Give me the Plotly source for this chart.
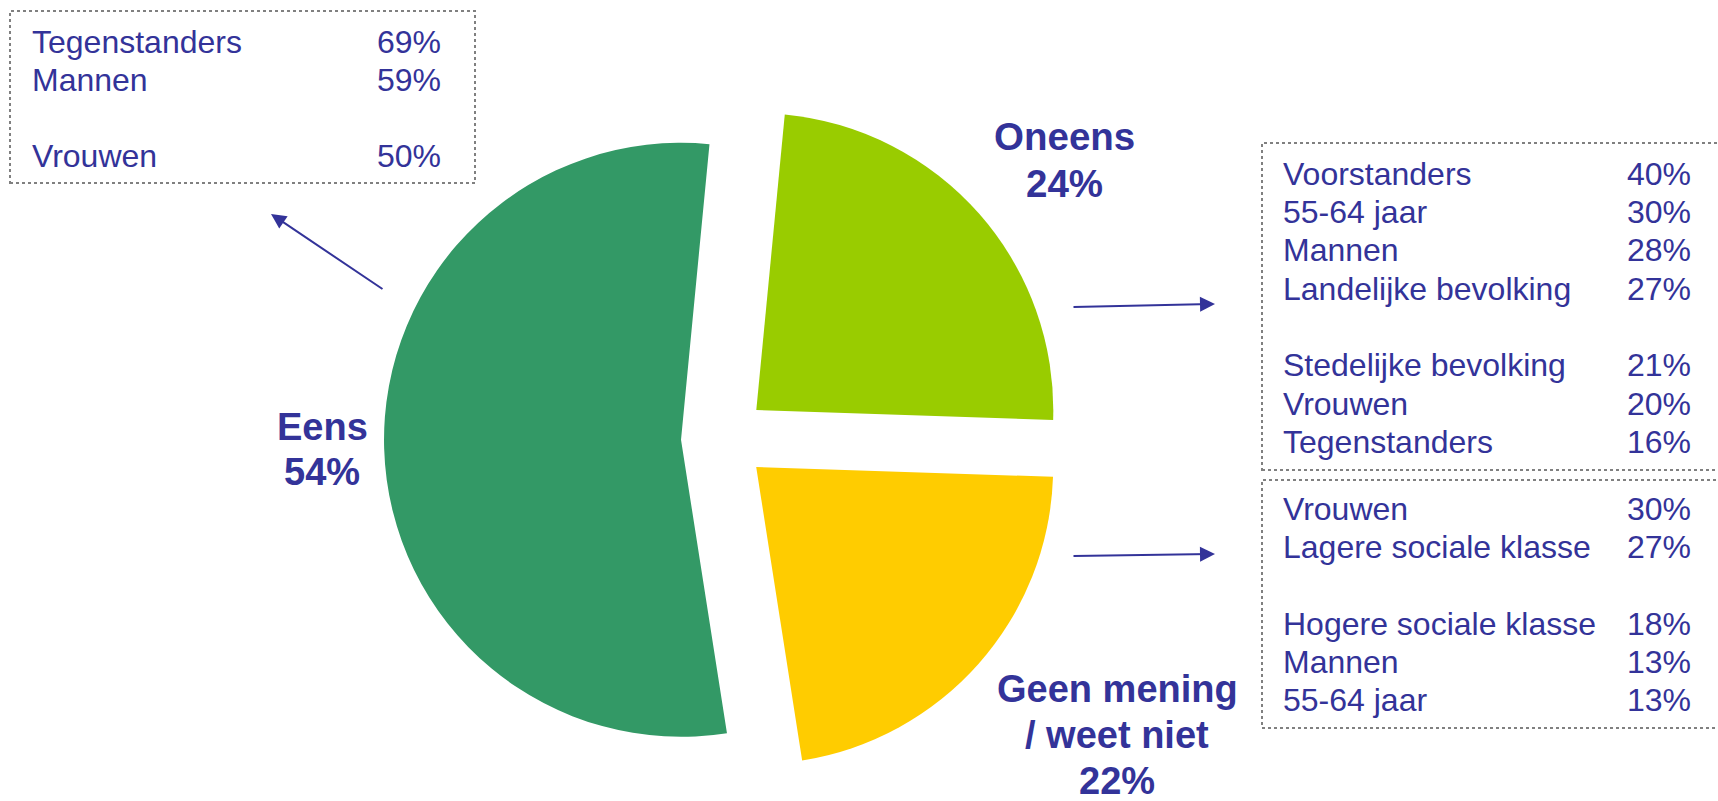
import plotly.graph_objects as go

W, H = 1718, 801

# ---- data ----
slice_labels = ["Oneens", "Geen mening / weet niet", "Eens"]
slice_values = [24, 22, 54]
slice_colors = ["#99CC00", "#FFCC00", "#339966"]

eens_rows = ["Tegenstanders", "Mannen", "", "Vrouwen"]
eens_vals = ["69%", "59%", "", "50%"]

oneens_rows = ["Voorstanders", "55-64 jaar", "Mannen", "Landelijke bevolking", "",
               "Stedelijke bevolking", "Vrouwen", "Tegenstanders"]
oneens_vals = ["40%", "30%", "28%", "27%", "", "21%", "20%", "16%"]

geen_rows = ["Vrouwen", "Lagere sociale klasse", "", "Hogere sociale klasse", "Mannen", "55-64 jaar"]
geen_vals = ["30%", "27%", "", "18%", "13%", "13%"]

big_labels = [
    (["Eens", "54%"], 322, [440, 485], 38),
    (["Oneens", "24%"], 1064, [150, 197], 38.5),
    (["Geen mening", "/ weet niet", "22%"], 1117, [702, 748, 794], 38),
]

BLUE = "#333399"
FONT = "Liberation Sans, Arial, sans-serif"


def px(x):
    return x / W


def py(y):
    return 1 - y / H


# pie geometry (pixels)
cx, cy, half = 724, 438.5, 340

fig = go.Figure()
fig.add_trace(go.Pie(
    labels=slice_labels, values=slice_values, sort=False,
    direction="clockwise", rotation=5.5,
    pull=[0.1448, 0.1448, 0.1448],
    marker=dict(colors=slice_colors, line=dict(width=0)),
    textinfo="none", hoverinfo="label+percent",
    domain=dict(x=[px(cx - half), px(cx + half)], y=[py(cy + half), py(cy - half)]),
))

annotations = []
shapes = []


def add_text(txt, x, baseline, size, anchor, bold=False):
    t = f"<b>{txt}</b>" if bold else txt
    annotations.append(dict(
        text=t, x=px(x), y=py(baseline - 0.347 * size), xref="paper", yref="paper",
        xanchor=anchor, yanchor="middle", showarrow=False,
        font=dict(family=FONT, size=size, color=BLUE),
    ))


def add_box(rows, vals, left, right, base0, step, box):
    for i, (r, v) in enumerate(zip(rows, vals)):
        if not r:
            continue
        b = base0 + i * step
        add_text(r, left, b, 32, "left")
        add_text(v, right, b, 32, "right")
    x0, y0, x1, y1 = box
    shapes.append(dict(type="rect", xref="paper", yref="paper",
                       x0=px(x0), x1=px(x1), y0=py(y1), y1=py(y0),
                       line=dict(color="#808080", width=2, dash="dot"),
                       fillcolor="rgba(0,0,0,0)"))


add_box(eens_rows, eens_vals, 30, 443, 53, 38, (10, 11, 475, 183))
add_box(oneens_rows, oneens_vals, 1281, 1693, 185, 38.3, (1262, 143, 1722, 470))
add_box(geen_rows, geen_vals, 1281, 1693, 520, 38.3, (1262, 480, 1722, 728))

for lines, x, bases, size in big_labels:
    for ln, b in zip(lines, bases):
        add_text(ln, x, b, size, "center", bold=True)

# arrows: (tip, tail) in pixels
arrows = [((271, 214), (384, 290)), ((1215, 304), (1072, 307)), ((1215, 554), (1072, 556))]
for (tx, ty), (sx, sy) in arrows:
    annotations.append(dict(
        text="", x=px(tx), y=py(ty), xref="paper", yref="paper",
        ax=sx - tx, ay=sy - ty, axref="pixel", ayref="pixel",
        showarrow=True, arrowhead=2, arrowsize=1.5, arrowwidth=2,
        arrowcolor=BLUE, standoff=0, startstandoff=0,
    ))

fig.update_layout(
    width=W, height=H, margin=dict(l=0, r=0, t=0, b=0),
    paper_bgcolor="white", plot_bgcolor="white", showlegend=False,
    annotations=annotations, shapes=shapes,
)

fig.write_html(
    "out.html",
    config={"displayModeBar": False},
    post_script="document.body.style.margin='0';document.body.style.padding='0';"
                "document.body.style.overflow='hidden';",
)
